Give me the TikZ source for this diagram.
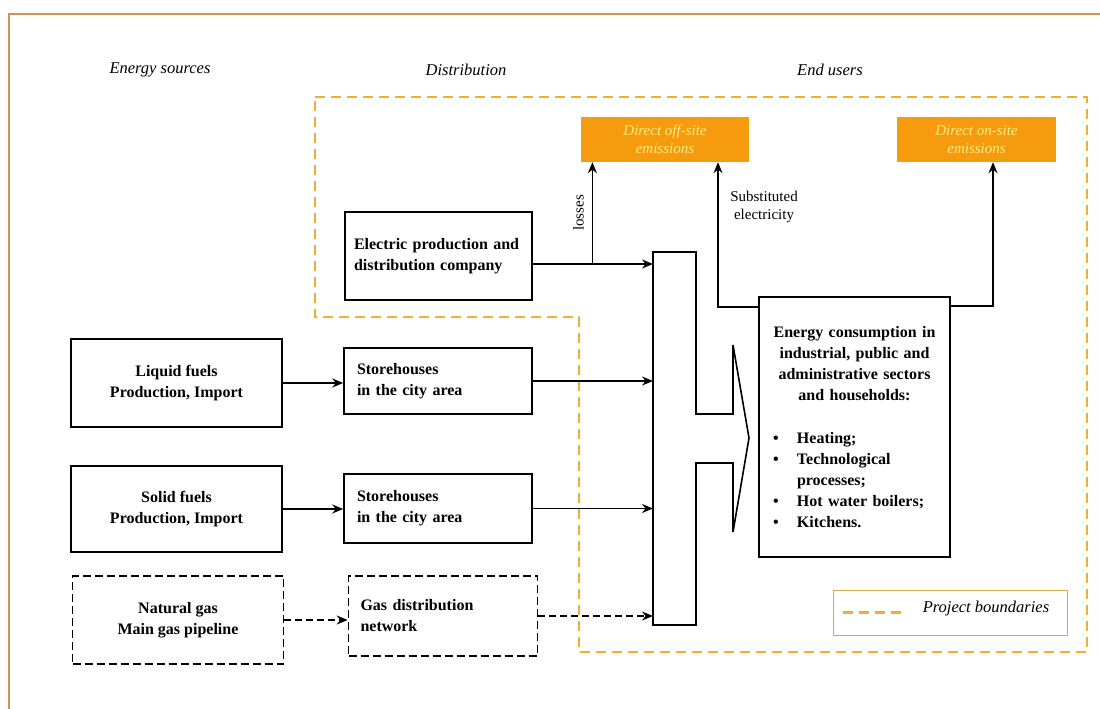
\documentclass[tikz,border=0pt]{standalone}
\usepackage{fontspec}
\setmainfont{Liberation Serif}
\usepackage{tikz}
\usetikzlibrary{arrows.meta,positioning,calc}

\definecolor{emisorange}{RGB}{246,155,14}
\definecolor{emistext}{RGB}{255,238,130}
\definecolor{boundgold}{RGB}{238,176,50}
\definecolor{framebrown}{RGB}{210,145,85}
\definecolor{legendgold}{RGB}{214,172,70}

\newcommand{\blt}{\makebox[30pt][l]{\hspace{6pt}\textbullet}}

\tikzset{
  box/.style={draw, line width=1.6pt, font=\fontsize{16}{21}\selectfont\bfseries},
  srcbox/.style={box, minimum width=211pt, minimum height=88pt, align=center},
  distbox/.style={box, align=left, inner ysep=6pt},
  emisbox/.style={fill=emisorange, minimum height=45pt, align=center, text=emistext,
    font=\fontsize{15}{18}\selectfont\itshape},
  boundary/.style={boundgold, line width=2.6pt, dash pattern=on 10pt off 6pt},
  flow/.style={line width=1.6pt, ->},
  gasflow/.style={flow, dash pattern=on 7pt off 4pt},
  heading/.style={font=\fontsize{16.5}{20}\selectfont\itshape}
}

\begin{document}
\begin{tikzpicture}[x=1pt,y=-1pt,>={Stealth[length=11pt,width=9pt]}]
  \useasboundingbox (0,0) rectangle (1100,709);
  \fill[white] (0,0) rectangle (1100,709);
  \draw[framebrown, line width=2.6pt] (1100,14) -- (9,14) -- (9,709);

  \node[heading] (hsrc) at (160,70) {Energy sources};
  \node[heading] (hdist) at (466,70) {Distribution};
  \node[heading] (husers) at (830,70) {End users};

  \draw[boundary] (315,97) -- (1087,97) -- (1087,652) -- (579,652) -- (579,317) -- (315,317) -- cycle;

  \node[emisbox, minimum width=168pt] (offsite) at (665,139.5) {Direct off-site\\emissions};
  \node[emisbox, minimum width=159pt] (onsite) at (976.5,139.5) {Direct on-site\\emissions};

  \node[srcbox] (liquid) at (176.5,383) {Liquid fuels\\Production, Import};
  \node[srcbox, minimum height=86pt] (solid) at (176.5,509) {Solid fuels\\Production, Import};
  \node[srcbox, dashed, dash pattern=on 8pt off 4pt] (natgas) at (178,620) {Natural gas\\Main gas pipeline};

  \node[distbox, inner xsep=9pt, text width=169pt, minimum height=88pt] (elec) at (438.5,256) {Electric production and\\distribution company};
  \node[distbox, inner xsep=13pt, text width=162pt, minimum height=66pt] (store1) at (438,381) {Storehouses\\in the city area};
  \node[distbox, inner xsep=13pt, text width=162pt, minimum height=69pt] (store2) at (438,508.5) {Storehouses\\in the city area};
  \node[distbox, dash pattern=on 8pt off 4pt, inner xsep=12pt, text width=165pt, minimum height=80pt] (gasdist) at (443,616) {Gas distribution\\network};

  \draw[line width=1.6pt] (653,252) coordinate (colNW) -- (696,252) -- (696,414) -- (733,414) -- (733,345)
    -- (749,438) coordinate (coltip) -- (733,532) -- (733,463) -- (696,463) -- (696,625) -- (653,625) -- cycle;

  \node[box, text width=175pt, inner xsep=8pt, minimum height=260pt] (cons) at (854.5,427)
    {\centering Energy consumption in\\ industrial, public and\\ administrative sectors\\ and households:\par
     \vspace{22pt}\raggedright\blt Heating;\\ \blt Technological\\ \hspace*{30pt}processes;\\ \blt Hot water boilers;\\ \blt Kitchens.\par};

  \draw[flow] (liquid.east) -- (liquid.east -| store1.west);
  \draw[flow] (solid.east) -- (solid.east -| store2.west);
  \draw[gasflow] (natgas.east) -- (natgas.east -| gasdist.west);

  \draw[flow] ([yshift=-8pt]elec.east) coordinate (elecout) -- (elecout -| colNW);
  \draw[flow] (store1.east) -- (store1.east -| colNW);
  \draw[flow] (store2.east) -- (store2.east -| colNW);
  \draw[gasflow] (gasdist.east) -- (gasdist.east -| colNW);

  \coordinate (lossfork) at ($(elecout)!0.5!(elecout -| colNW)+(-0.5,0)$);
  \draw[flow] (lossfork) -- (lossfork |- offsite.south);
  \node[rotate=90, font=\fontsize{15}{18}\selectfont] (losslbl) at ($(lossfork |- 0,213)+(-14,0)$) {losses};

  \draw[flow] ([yshift=-11pt]cons.north west) -| ([xshift=53pt]offsite.south);
  \node[align=center, font=\fontsize{15}{18}\selectfont] (subst) at (764,207) {Substituted\\electricity};
  \draw[flow] ([yshift=-10pt]cons.north east) -| ([xshift=16.5pt]onsite.south);

  \node[draw=legendgold, line width=1pt, minimum width=234pt, minimum height=45pt] (legend) at (950,612.5) {};
  \draw[boundary] ([xshift=10pt]legend.west) -- ([xshift=74pt]legend.west);
  \node[heading] (legtext) at (986,609) {Project boundaries};
\end{tikzpicture}
\end{document}
